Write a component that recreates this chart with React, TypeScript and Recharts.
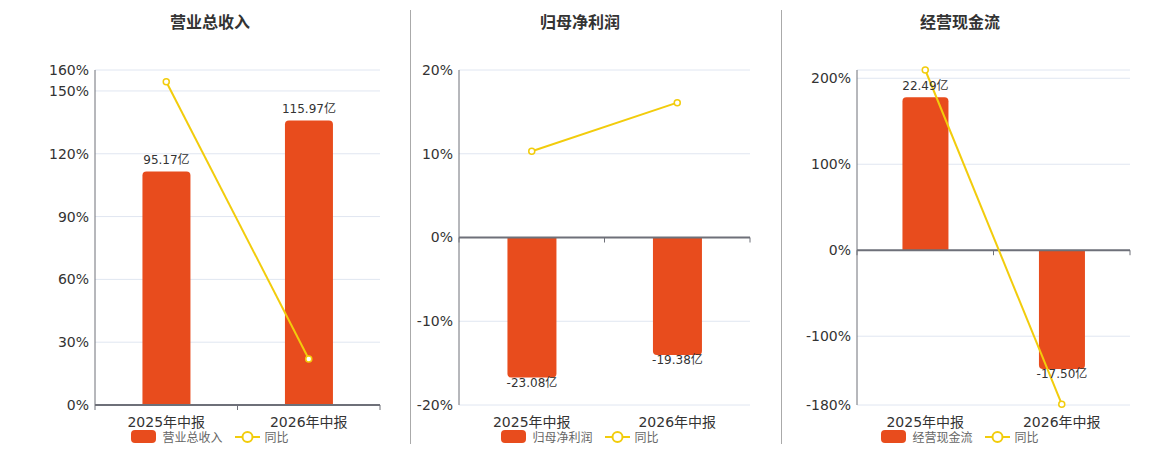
import React from 'react';
import { ComposedChart, Bar, Line, XAxis, YAxis, CartesianGrid, ReferenceLine, LabelList } from 'recharts';

const categories = ['2025年中报', '2026年中报'];

const revenueValues = [95.17, 115.97];
const revenueYoY = [154.4, 22.0];
const revenueTicks = [0, 30, 60, 90, 120, 150, 160];

const profitValues = [-23.08, -19.38];
const profitYoY = [10.3, 16.1];
const profitTicks = [-20, -10, 0, 10, 20];

const cashValues = [22.49, -17.5];
const cashYoY = [209.6, -179.0];
const cashTicks = [-180, -100, 0, 100, 200, 209.6];
const cashTickLabels = ['-180%', '-100%', '0%', '100%', '200%', ''];

const BAR_COLOR = '#E84C1D';
const LINE_COLOR = '#F2CC0C';
const AXIS_COLOR = '#6E7079';
const GRID_COLOR = '#E0E6F1';
const TEXT_COLOR = '#333';
const FONT = '"DejaVu Sans", "Noto Sans CJK SC", sans-serif';

type PanelDef = {
  title: string;
  name: string;
  values: number[];
  yoy: number[];
  ticks: number[];
  tickLabels?: string[];
  pctDomain: [number, number];
  barDomain: [number, number];
  left: number;
  width: number;
  yAxisWidth: number;
  rightMargin: number;
  center: number;
};

const panels: PanelDef[] = [
  {
    title: '营业总收入', name: '营业总收入', values: revenueValues, yoy: revenueYoY, ticks: revenueTicks,
    pctDomain: [0, 160], barDomain: [0, 136.5], left: 0, width: 410, yAxisWidth: 95, rightMargin: 30, center: 210,
  },
  {
    title: '归母净利润', name: '归母净利润', values: profitValues, yoy: profitYoY, ticks: profitTicks,
    pctDomain: [-20, 20], barDomain: [-27.6, 27.6], left: 410, width: 371, yAxisWidth: 49, rightMargin: 31, center: 580,
  },
  {
    title: '经营现金流', name: '经营现金流', values: cashValues, yoy: cashYoY, ticks: cashTicks, tickLabels: cashTickLabels,
    pctDomain: [-180, 209.6], barDomain: [-22.8, 26.5], left: 781, width: 379, yAxisWidth: 76, rightMargin: 30, center: 960,
  },
];

const BarLabel = (props: any) => {
  const { x, y, width, height, value } = props;
  const top = Math.min(y, y + height);
  const bottom = Math.max(y, y + height);
  const cx = x + width / 2;
  const ty = value >= 0 ? top - 11 : bottom + 5;
  return (
    <text x={cx} y={ty} textAnchor="middle" dominantBaseline="central" fontSize={12} fill={TEXT_COLOR} fontFamily={FONT}>
      {`${Number(value).toFixed(2)}亿`}
    </text>
  );
};

const XTick = (props: any) => {
  const { x, y, payload } = props;
  return (
    <text x={x} y={y + 15} textAnchor="middle" dominantBaseline="central" fontSize={14} fill={TEXT_COLOR} fontFamily={FONT}>
      {payload.value}
    </text>
  );
};

const ZeroLine = (props: any) => {
  const { x1, x2, y1 } = props;
  const mid = (x1 + x2) / 2;
  return (
    <g>
      <line x1={x1} x2={x2} y1={y1} y2={y1} stroke={AXIS_COLOR} strokeWidth={2} />
      {[x1, mid, x2].map((tx: number, i: number) => (
        <line key={i} x1={tx} x2={tx} y1={y1} y2={y1 + 5} stroke={AXIS_COLOR} strokeWidth={1} />
      ))}
    </g>
  );
};

const LegendRow = ({ name }: { name: string }) => (
  <div style={{ display: 'flex', alignItems: 'center', justifyContent: 'center', fontSize: 12, color: '#666', fontFamily: FONT }}>
    <span style={{ display: 'inline-block', width: 25, height: 13, borderRadius: 4, background: BAR_COLOR, marginRight: 6 }} />
    <span style={{ marginRight: 12 }}>{name}</span>
    <svg width={25} height={14} style={{ marginRight: 5 }}>
      <line x1={0} x2={25} y1={7} y2={7} stroke={LINE_COLOR} strokeWidth={2} />
      <circle cx={12.5} cy={7} r={5} fill="#fff" stroke={LINE_COLOR} strokeWidth={2} />
    </svg>
    <span>同比</span>
  </div>
);

const Panel = ({ p }: { p: PanelDef }) => {
  const data = categories.map((c, i) => ({ name: c, value: p.values[i], yoy: p.yoy[i] }));
  const fmt = (v: number) => {
    if (p.tickLabels) {
      const idx = p.ticks.indexOf(v);
      if (idx >= 0) return p.tickLabels[idx];
    }
    return `${v}%`;
  };
  return (
    <div style={{ position: 'absolute', left: p.left, top: 0, width: p.width, height: 450 }}>
      <ComposedChart
        width={p.width}
        height={450}
        data={data}
        margin={{ top: 70, right: p.rightMargin, bottom: 25, left: 0 }}
        barCategoryGap="33.3%"
      >
        <CartesianGrid yAxisId="pct" vertical={false} stroke={GRID_COLOR} />
        <XAxis
          dataKey="name"
          height={20}
          axisLine={false}
          tickLine={false}
          tickSize={0}
          tick={<XTick />}
          interval={0}
        />
        <YAxis
          yAxisId="pct"
          orientation="left"
          width={p.yAxisWidth}
          domain={p.pctDomain}
          ticks={p.ticks}
          interval={0}
          tickFormatter={fmt}
          axisLine={{ stroke: AXIS_COLOR, strokeWidth: 1 }}
          tickLine={false}
          tickSize={0}
          tickMargin={6}
          tick={{ fontSize: 14, fill: TEXT_COLOR, fontFamily: FONT }}
        />
        <YAxis yAxisId="bar" orientation="right" width={0} hide domain={p.barDomain} allowDataOverflow />
        <Bar yAxisId="bar" dataKey="value" fill={BAR_COLOR} radius={[4, 4, 0, 0]} isAnimationActive={false}>
          <LabelList dataKey="value" content={<BarLabel />} />
        </Bar>
        <ReferenceLine yAxisId="pct" y={0} shape={<ZeroLine />} />
        <Line
          yAxisId="pct"
          dataKey="yoy"
          stroke={LINE_COLOR}
          strokeWidth={2}
          dot={{ r: 3, fill: '#fff', stroke: LINE_COLOR, strokeWidth: 1.5 }}
          activeDot={false}
          isAnimationActive={false}
        />
      </ComposedChart>
    </div>
  );
};

export default function App() {
  return (
    <div style={{ position: 'absolute', left: 0, top: 0, width: 1160, height: 450, background: '#fff', fontFamily: FONT }}>
      {panels.map((p) => (
        <Panel key={p.title} p={p} />
      ))}
      {panels.map((p) => (
        <div key={p.title + '-t'} style={{ position: 'absolute', left: p.center - 150, width: 300, top: 12, textAlign: 'center', fontSize: 16, fontWeight: 'bold', color: TEXT_COLOR, lineHeight: '22px' }}>
          {p.title}
        </div>
      ))}
      {panels.map((p) => (
        <div key={p.title + '-l'} style={{ position: 'absolute', left: p.center - 150, width: 300, top: 428, height: 16 }}>
          <LegendRow name={p.name} />
        </div>
      ))}
      <div style={{ position: 'absolute', left: 410, top: 10, width: 1, height: 434, background: '#AAAAAA' }} />
      <div style={{ position: 'absolute', left: 781, top: 10, width: 1, height: 434, background: '#AAAAAA' }} />
    </div>
  );
}
